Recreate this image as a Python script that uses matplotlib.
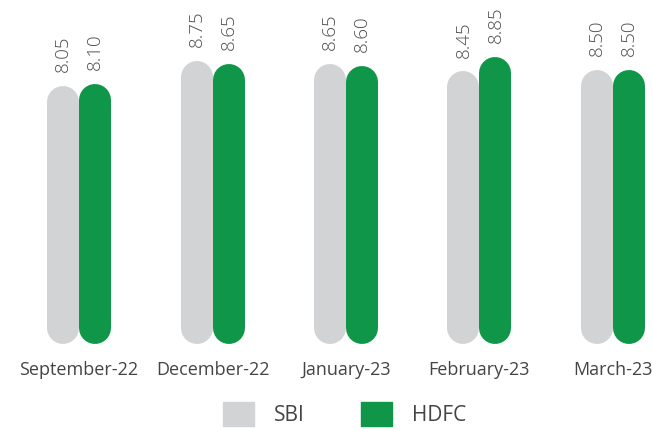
import numpy as np
import matplotlib.pyplot as plt
from matplotlib.patches import Patch

months = ['September-22', 'December-22', 'January-23', 'February-23', 'March-23']
sbi = [8.05, 8.75, 8.65, 8.45, 8.50]
hdfc = [8.10, 8.65, 8.60, 8.85, 8.50]
labels_sbi = ['8.05', '8.75', '8.65', '8.45', '8.50']
labels_hdfc = ['8.10', '8.65', '8.60', '8.85', '8.50']

GREY = '#d1d3d4'
GREEN = '#0f9648'
TXT = '#4d4d4d'
BASE = 0.93

plt.rcParams['font.family'] = ['Open Sans', 'DejaVu Sans']

fig = plt.figure(figsize=(6.53, 4.30), dpi=100)
ax = fig.add_axes([0, 0, 1, 1])
ax.axis('off')
ax.set_xlim(-0.592, 4.30)
ax.set_ylim(-1.44, 10.42)

# pill bars: thick lines with round caps, radius 16px
px_per_unit = 430 / (10.42 + 1.44)
r = 16 / px_per_unit
lw = 32 * 72 / 100
off = 32 / 133.5 / 2

x = np.arange(len(months))
for i in x:
    for xs, v, lab, c in [(i - off, sbi[i], labels_sbi[i], GREY),
                          (i + off, hdfc[i], labels_hdfc[i], GREEN)]:
        ax.plot([xs, xs], [BASE + r, v - r], color=c, lw=lw,
                solid_capstyle='round')
        ax.annotate(lab, (xs, v), xytext=(0, 10), textcoords='offset points',
                    ha='center', va='bottom', rotation=90, fontsize=13.5,
                    color=TXT, fontweight='light')

for i, m in enumerate(months):
    ax.text(i, 1 - 370 / 430, m, ha='center', va='center', fontsize=13,
            color='#444444', transform=ax.get_xaxis_transform())

handles = [Patch(color=GREY, label='SBI'), Patch(color=GREEN, label='HDFC')]
fig.legend(handles=handles, loc='center', bbox_to_anchor=(0.528, 1 - 414 / 430),
           ncol=2, frameon=False, fontsize=15, handlelength=1.5, handleheight=1.45,
           handletextpad=0.95, columnspacing=2.7, labelcolor='#444444')

fig.savefig('out.png', dpi=100)
